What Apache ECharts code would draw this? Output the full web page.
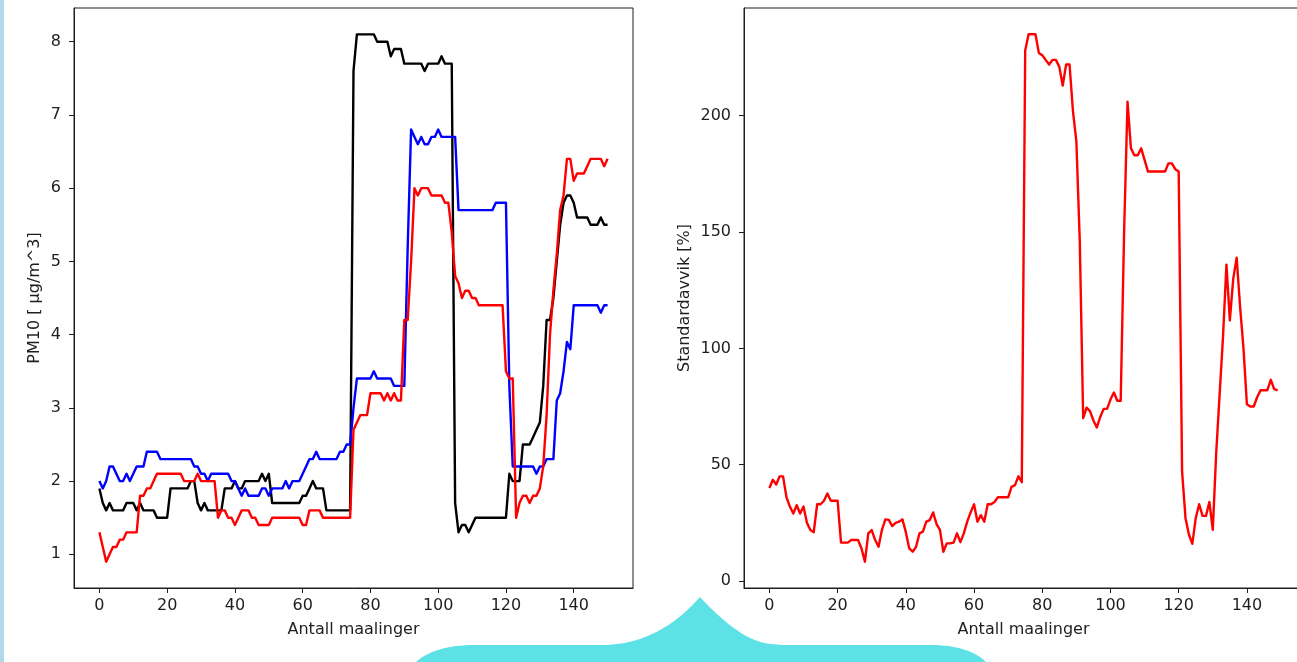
<!DOCTYPE html>
<html>
<head>
<meta charset="utf-8">
<script src="https://cdn.jsdelivr.net/npm/echarts@6/dist/echarts.min.js"></script>
<style>
  html, body { margin: 0; padding: 0; background: #fff; }
  #root { width: 1297px; height: 662px; }
</style>
</head>
<body>
<div id="root"></div>
<script>
// PM10 per sensor (venstre plott), 151 malinger
const pmBlack = [
  1.9, 1.7, 1.6, 1.7, 1.6, 1.6, 1.6, 1.6, 1.7, 1.7,
  1.7, 1.6, 1.7, 1.6, 1.6, 1.6, 1.6, 1.5, 1.5, 1.5,
  1.5, 1.9, 1.9, 1.9, 1.9, 1.9, 1.9, 2.0, 2.0, 1.7,
  1.6, 1.7, 1.6, 1.6, 1.6, 1.6, 1.6, 1.9, 1.9, 1.9,
  2.0, 1.9, 1.9, 2.0, 2.0, 2.0, 2.0, 2.0, 2.1, 2.0,
  2.1, 1.7, 1.7, 1.7, 1.7, 1.7, 1.7, 1.7, 1.7, 1.7,
  1.8, 1.8, 1.9, 2.0, 1.9, 1.9, 1.9, 1.6, 1.6, 1.6,
  1.6, 1.6, 1.6, 1.6, 1.6, 7.6, 8.1, 8.1, 8.1, 8.1,
  8.1, 8.1, 8.0, 8.0, 8.0, 8.0, 7.8, 7.9, 7.9, 7.9,
  7.7, 7.7, 7.7, 7.7, 7.7, 7.7, 7.6, 7.7, 7.7, 7.7,
  7.7, 7.8, 7.7, 7.7, 7.7, 1.7, 1.3, 1.4, 1.4, 1.3,
  1.4, 1.5, 1.5, 1.5, 1.5, 1.5, 1.5, 1.5, 1.5, 1.5,
  1.5, 2.1, 2.0, 2.0, 2.0, 2.5, 2.5, 2.5, 2.6, 2.7,
  2.8, 3.3, 4.2, 4.2, 4.5, 5.0, 5.5, 5.8, 5.9, 5.9,
  5.8, 5.6, 5.6, 5.6, 5.6, 5.5, 5.5, 5.5, 5.6, 5.5,
  5.5,
];
const pmBlue = [
  2.0, 1.9, 2.0, 2.2, 2.2, 2.1, 2.0, 2.0, 2.1, 2.0,
  2.1, 2.2, 2.2, 2.2, 2.4, 2.4, 2.4, 2.4, 2.3, 2.3,
  2.3, 2.3, 2.3, 2.3, 2.3, 2.3, 2.3, 2.3, 2.2, 2.2,
  2.1, 2.1, 2.0, 2.1, 2.1, 2.1, 2.1, 2.1, 2.1, 2.0,
  2.0, 1.9, 1.8, 1.9, 1.8, 1.8, 1.8, 1.8, 1.9, 1.9,
  1.8, 1.9, 1.9, 1.9, 1.9, 2.0, 1.9, 2.0, 2.0, 2.0,
  2.1, 2.2, 2.3, 2.3, 2.4, 2.3, 2.3, 2.3, 2.3, 2.3,
  2.3, 2.4, 2.4, 2.5, 2.5, 3.0, 3.4, 3.4, 3.4, 3.4,
  3.4, 3.5, 3.4, 3.4, 3.4, 3.4, 3.4, 3.3, 3.3, 3.3,
  3.3, 5.2, 6.8, 6.7, 6.6, 6.7, 6.6, 6.6, 6.7, 6.7,
  6.8, 6.7, 6.7, 6.7, 6.7, 6.7, 5.7, 5.7, 5.7, 5.7,
  5.7, 5.7, 5.7, 5.7, 5.7, 5.7, 5.7, 5.8, 5.8, 5.8,
  5.8, 3.3, 2.2, 2.2, 2.2, 2.2, 2.2, 2.2, 2.2, 2.1,
  2.2, 2.2, 2.3, 2.3, 2.3, 3.1, 3.2, 3.5, 3.9, 3.8,
  4.4, 4.4, 4.4, 4.4, 4.4, 4.4, 4.4, 4.4, 4.3, 4.4,
  4.4,
];
const pmRed = [
  1.3, 1.1, 0.9, 1.0, 1.1, 1.1, 1.2, 1.2, 1.3, 1.3,
  1.3, 1.3, 1.8, 1.8, 1.9, 1.9, 2.0, 2.1, 2.1, 2.1,
  2.1, 2.1, 2.1, 2.1, 2.1, 2.0, 2.0, 2.0, 2.0, 2.1,
  2.0, 2.0, 2.0, 2.0, 2.0, 1.5, 1.6, 1.6, 1.5, 1.5,
  1.4, 1.5, 1.6, 1.6, 1.6, 1.5, 1.5, 1.4, 1.4, 1.4,
  1.4, 1.5, 1.5, 1.5, 1.5, 1.5, 1.5, 1.5, 1.5, 1.5,
  1.4, 1.4, 1.6, 1.6, 1.6, 1.6, 1.5, 1.5, 1.5, 1.5,
  1.5, 1.5, 1.5, 1.5, 1.5, 2.7, 2.8, 2.9, 2.9, 2.9,
  3.2, 3.2, 3.2, 3.2, 3.1, 3.2, 3.1, 3.2, 3.1, 3.1,
  4.2, 4.2, 5.0, 6.0, 5.9, 6.0, 6.0, 6.0, 5.9, 5.9,
  5.9, 5.9, 5.8, 5.8, 5.4, 4.8, 4.7, 4.5, 4.6, 4.6,
  4.5, 4.5, 4.4, 4.4, 4.4, 4.4, 4.4, 4.4, 4.4, 4.4,
  3.5, 3.4, 3.4, 1.5, 1.7, 1.8, 1.8, 1.7, 1.8, 1.8,
  1.9, 2.2, 2.9, 4.0, 4.6, 5.1, 5.7, 5.9, 6.4, 6.4,
  6.1, 6.2, 6.2, 6.2, 6.3, 6.4, 6.4, 6.4, 6.4, 6.3,
  6.4,
];
// standardavvik i prosent (hoyre plott), 150 malinger
const stdDev = [
  40, 43.5, 41.5, 45, 45, 36, 32, 29, 32.6, 29,
  32, 25, 21.9, 21, 33, 33, 34.5, 37.6, 34.5, 34.5,
  34.5, 16.5, 16.5, 16.5, 17.6, 17.6, 17.6, 14, 8.3, 20.5,
  21.9, 17.6, 14.7, 22, 26.5, 26.3, 23.6, 25, 25.5, 26.5,
  21, 14, 12.6, 14.7, 20.5, 21.2, 25.5, 26.2, 29.5, 24.5,
  22, 12.6, 16.2, 16.2, 16.5, 20.5, 16.7, 20.5, 25.5, 29.5,
  33, 25.5, 28.3, 25.5, 33, 33, 34, 36, 36, 36,
  36, 40.5, 41.2, 45, 42.5, 228, 235, 235, 235, 227,
  226, 224, 222, 224, 224, 221, 213, 222, 222, 202,
  189, 146, 70, 74.5, 73, 69, 66, 70.5, 74, 74,
  78, 81, 77.5, 77.5, 150, 206, 186, 183, 183, 186,
  181, 176, 176, 176, 176, 176, 176, 179.5, 179.5, 177,
  176, 47, 27, 20, 16, 27, 33, 28, 28, 34,
  22, 55, 80, 105, 136, 112, 130, 139, 118, 100,
  76, 75, 75, 79, 82, 82, 82, 86.5, 82.5, 82,
];

const xTicks = [0, 20, 40, 60, 80, 100, 120, 140];
const pmTicks = [1, 2, 3, 4, 5, 6, 7, 8];
const stdTicks = [0, 50, 100, 150, 200];

const FONT = 'DejaVu Sans';
const INK = '#1e1e1e';

const toPoints = (arr) => arr.map((v, i) => [i, v]);

const textStyle = { color: INK, fontSize: 16, fontFamily: FONT };

const makeX = (gridIndex, min, max) => ({
  type: 'value',
  gridIndex,
  min,
  max,
  name: 'Antall maalinger',
  nameLocation: 'middle',
  nameGap: 34,
  nameTextStyle: textStyle,
  axisLine: { show: true, onZero: false, lineStyle: { color: INK, width: 1 } },
  axisTick: { show: true, length: 5, customValues: xTicks, lineStyle: { color: INK } },
  axisLabel: { customValues: xTicks, margin: 10, ...textStyle },
  splitLine: { show: false },
});

const makeY = (gridIndex, min, max, ticks, name, gap) => ({
  type: 'value',
  gridIndex,
  min,
  max,
  name,
  nameLocation: 'middle',
  nameGap: gap,
  nameTextStyle: textStyle,
  axisLine: { show: true, onZero: false, lineStyle: { color: INK, width: 1 } },
  axisTick: { show: true, length: 5, customValues: ticks, lineStyle: { color: INK } },
  axisLabel: { customValues: ticks, margin: 13, ...textStyle },
  splitLine: { show: false },
});

const makeLine = (data, color, xi) => ({
  type: 'line',
  xAxisIndex: xi,
  yAxisIndex: xi,
  data: toPoints(data),
  showSymbol: false,
  symbol: 'none',
  lineStyle: { color, width: 2.4, join: 'round' },
  itemStyle: { color },
  emphasis: { disabled: true },
});

// turkis boble nederst: kubiske kurver punktvis til polygon
const bubbleCurves = [
  [[416, 662], [428, 651], [448, 645], [475, 645]],
  [[475, 645], [520, 645], [560, 645], [600, 645]],
  [[600, 645], [628, 645], [645, 638], [660, 630]],
  [[660, 630], [678, 620], [690, 608], [700, 597]],
  [[700, 597], [712, 610], [728, 626], [748, 637]],
  [[748, 637], [760, 643], [770, 645], [790, 645]],
  [[790, 645], [840, 645], [890, 645], [930, 645]],
  [[930, 645], [956, 645], [975, 651], [986, 662]],
];
const bezierPoints = (curves) => {
  const pts = [];
  curves.forEach(([p0, p1, p2, p3]) => {
    for (let k = 0; k <= 16; k++) {
      const t = k / 16;
      const u = 1 - t;
      pts.push([
        u * u * u * p0[0] + 3 * u * u * t * p1[0] + 3 * u * t * t * p2[0] + t * t * t * p3[0],
        u * u * u * p0[1] + 3 * u * u * t * p1[1] + 3 * u * t * t * p2[1] + t * t * t * p3[1],
      ]);
    }
  });
  return pts;
};

const _graphic = [
  { type: 'rect', shape: { x: 0, y: 0, width: 4, height: 662 }, style: { fill: '#b4d8eb' } },
  { type: 'polygon', shape: { points: bezierPoints(bubbleCurves) }, style: { fill: '#5ce1e6' } },
];

const _grid = (left) => ({
  left,
  top: 8,
  width: 559,
  height: 580,
  show: true,
  borderColor: INK,
  borderWidth: 1,
  backgroundColor: '#fff',
  outerBoundsMode: 'none',
});

const options = {
  animation: false,
  backgroundColor: '#fff',
  graphic: _graphic,
  grid: [_grid(74), _grid(744)],
  xAxis: [
    makeX(0, -7.5, 157.5),
    makeX(1, -7.45, 156.45),
  ],
  yAxis: [
    makeY(0, 0.54, 8.46, pmTicks, 'PM10 [ μg/m^3]', 31),
    makeY(1, -3.0, 246.3, stdTicks, 'Standardavvik [%]', 51),
  ],
  series: [
    makeLine(pmBlack, '#000000', 0),
    makeLine(pmBlue, '#0000ff', 0),
    makeLine(pmRed, '#ff0000', 0),
    makeLine(stdDev, '#ff0000', 1),
  ],
};

const myChart = echarts.init(document.getElementById('root'));
myChart.setOption(options);
</script>
</body>
</html>
